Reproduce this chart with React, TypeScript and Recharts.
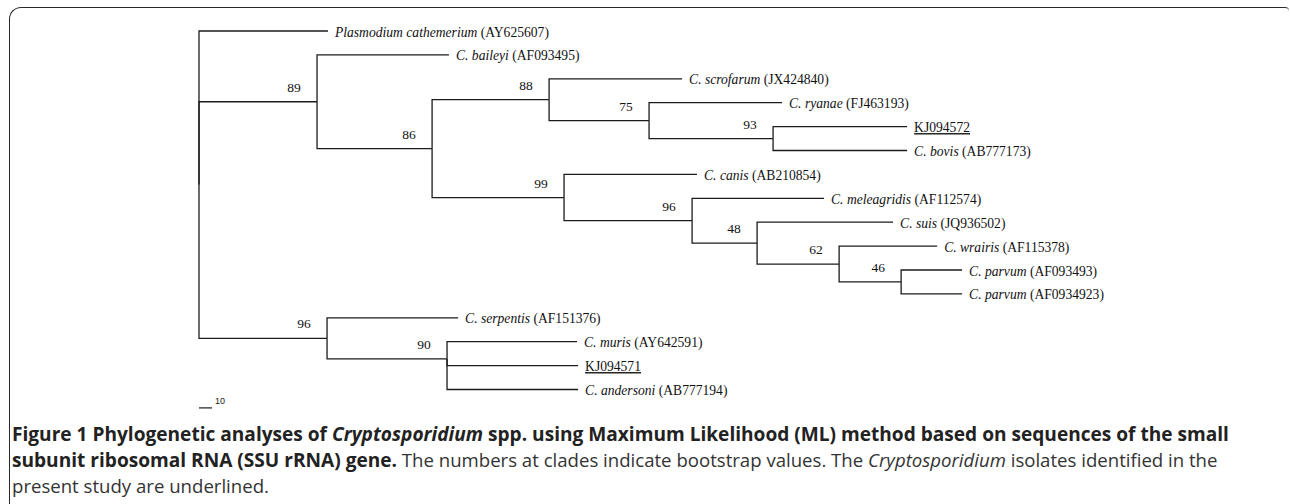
import React from 'react';
import { ScatterChart, Scatter, XAxis, YAxis } from 'recharts';

// ---------- Tree data ----------
const nodeIds = [
  'root', 'plas', 'n89', 'bai', 'n86', 'n88', 'scro', 'n75', 'rya', 'n93', 'kj572', 'bov',
  'n99', 'can', 'n96a', 'mel', 'n48', 'sui', 'n62', 'wra', 'n46', 'par1', 'par2',
  'n96b', 'ser', 'n90', 'mur', 'kj571', 'and',
];
const parentIds = [
  '', 'root', 'root', 'n89', 'n89', 'n86', 'n88', 'n88', 'n75', 'n75', 'n93', 'n93',
  'n86', 'n99', 'n99', 'n96a', 'n96a', 'n48', 'n48', 'n62', 'n62', 'n46', 'n46',
  'root', 'n96b', 'n96b', 'n90', 'n90', 'n90',
];
const branchLengths = [
  0, 99.2, 90.8, 101.5, 88.5, 90.0, 102.3, 76.9, 102.3, 95.4, 103.1, 103.1,
  101.5, 102.3, 98.5, 101.5, 50.0, 104.6, 63.1, 75.4, 47.7, 46.9, 46.9,
  98.5, 100.8, 92.3, 100.0, 100.8, 100.8,
];
const bootstrapValues: (number | null)[] = [
  null, null, 89, null, 86, 88, null, 75, null, 93, null, null,
  99, null, 96, null, 48, null, 62, null, 46, null, null,
  96, null, 90, null, null, null,
];
// internal node drawn off the midpoint of its children (leaf-row units)
const nodeRowOverrides: Record<string, number> = { n90: 13.72 };

const leafIds = ['plas', 'bai', 'scro', 'rya', 'kj572', 'bov', 'can', 'mel', 'sui', 'wra', 'par1', 'par2', 'ser', 'mur', 'kj571', 'and'];
const leafSpecies = [
  'Plasmodium cathemerium', 'C. baileyi', 'C. scrofarum', 'C. ryanae', '', 'C. bovis', 'C. canis',
  'C. meleagridis', 'C. suis', 'C. wrairis', 'C. parvum', 'C. parvum', 'C. serpentis', 'C. muris', '', 'C. andersoni',
];
const leafAccessions = [
  'AY625607', 'AF093495', 'JX424840', 'FJ463193', 'KJ094572', 'AB777173', 'AB210854',
  'AF112574', 'JQ936502', 'AF115378', 'AF093493', 'AF0934923', 'AF151376', 'AY642591', 'KJ094571', 'AB777194',
];
const studyIsolates = ['KJ094572', 'KJ094571'];

const scaleBarLength = 10;
const scaleBarLabel = '10';
const scaleBarRow = 15.77;

// ---------- Layout helpers ----------
const W = 1290;
const H = 504;
const PX_PER_UNIT = 1.3;
const ROOT_PX = 199;
const ROW0_PX = 31;
const ROW_PX = 23.9;
const X_DOMAIN: [number, number] = [-ROOT_PX / PX_PER_UNIT, (W - ROOT_PX) / PX_PER_UNIT];
const Y_DOMAIN: [number, number] = [-ROW0_PX / ROW_PX, (H - ROW0_PX) / ROW_PX];

type NodePos = { id: string; x: number; y: number; parent: string; boot: number | null };

function layoutTree(): Record<string, NodePos> {
  const pos: Record<string, NodePos> = {};
  const children: Record<string, string[]> = {};
  nodeIds.forEach((id, i) => {
    const p = parentIds[i];
    if (p) (children[p] = children[p] || []).push(id);
  });
  const idx = (id: string) => nodeIds.indexOf(id);
  const place = (id: string, x: number) => {
    const i = idx(id);
    const nx = x + branchLengths[i];
    const kids = children[id] || [];
    kids.forEach((k) => place(k, nx));
    let y: number;
    if (kids.length === 0) y = leafIds.indexOf(id);
    else if (nodeRowOverrides[id] !== undefined) y = nodeRowOverrides[id];
    else y = (pos[kids[0]].y + pos[kids[kids.length - 1]].y) / 2;
    pos[id] = { id, x: nx, y, parent: parentIds[i], boot: bootstrapValues[i] };
  };
  place('root', 0);
  return pos;
}

const positions = layoutTree();
const edges = nodeIds
  .filter((id) => positions[id].parent)
  .map((id) => {
    const n = positions[id];
    const p = positions[n.parent];
    return { id, data: [{ x: p.x, y: p.y }, { x: p.x, y: n.y }, { x: n.x, y: n.y }] };
  });
const leafPoints = leafIds.map((id, i) => ({
  x: positions[id].x,
  y: positions[id].y,
  species: leafSpecies[i],
  acc: leafAccessions[i],
}));
const bootPoints = nodeIds
  .filter((id) => positions[id].boot !== null)
  .map((id) => ({ x: positions[id].x, y: positions[id].y, boot: positions[id].boot }));
const scaleBarData = [{ x: 0, y: scaleBarRow }, { x: scaleBarLength, y: scaleBarRow }];

const SERIF = '"Liberation Serif", "Times New Roman", serif';
const LINE = '#1c1c1c';

const Empty = () => <g />;

const LeafLabel = (props: any) => {
  const { cx, cy, payload } = props;
  const study = studyIsolates.includes(payload.acc);
  return (
    <text x={cx + 7} y={cy + 5.5} fontFamily={SERIF} fontSize={13.6} fill="#111">
      {study ? (
        <tspan textDecoration="underline">{payload.acc}</tspan>
      ) : (
        <>
          <tspan fontStyle="italic">{payload.species}</tspan>
          <tspan>{` (${payload.acc})`}</tspan>
        </>
      )}
    </text>
  );
};

const BootLabel = (props: any) => {
  const { cx, cy, payload } = props;
  return (
    <text x={cx - 23} y={cy - 10} textAnchor="middle" fontFamily={SERIF} fontSize={13.5} fill="#111">
      {payload.boot}
    </text>
  );
};

const ScaleLabel = (props: any) => {
  const { cx, cy, index } = props;
  if (index !== 1) return <g />;
  return (
    <text x={cx + 3} y={cy - 4} fontFamily='"Liberation Sans", Arial, sans-serif' fontSize={9} fill="#222">
      {scaleBarLabel}
    </text>
  );
};

export default function App() {
  return (
    <div style={{ position: 'absolute', left: 0, top: 0, width: W, height: H, background: '#fff', overflow: 'hidden' }}>
      <div
        style={{
          position: 'absolute',
          left: 9,
          top: 7,
          width: 1280,
          height: 520,
          borderTop: '1.8px solid #2a2a2a',
          borderLeft: '1.8px solid #2a2a2a',
          borderTopLeftRadius: 12,
          borderTopRightRadius: 4,
          boxSizing: 'border-box',
        }}
      />
      <div style={{ position: 'absolute', left: 0, top: 0 }}>
        <ScatterChart width={W} height={H} margin={{ top: 0, right: 0, bottom: 0, left: 0 }}>
          <XAxis type="number" dataKey="x" domain={X_DOMAIN} hide allowDataOverflow />
          <YAxis type="number" dataKey="y" domain={Y_DOMAIN} reversed hide allowDataOverflow />
          {edges.map((e) => (
            <Scatter
              key={e.id}
              data={e.data}
              line={{ stroke: LINE, strokeWidth: 1.3 }}
              lineType="joint"
              shape={Empty}
              isAnimationActive={false}
              legendType="none"
            />
          ))}
          <Scatter data={leafPoints} shape={LeafLabel} isAnimationActive={false} legendType="none" />
          <Scatter data={bootPoints} shape={BootLabel} isAnimationActive={false} legendType="none" />
          <Scatter
            data={scaleBarData}
            line={{ stroke: LINE, strokeWidth: 1.2 }}
            lineType="joint"
            shape={ScaleLabel}
            isAnimationActive={false}
            legendType="none"
          />
        </ScatterChart>
      </div>
      <div
        style={{
          position: 'absolute',
          left: 12,
          top: 421,
          fontFamily: '"Open Sans", sans-serif',
          fontSize: 18.6,
          lineHeight: '25px',
          color: '#333',
          whiteSpace: 'nowrap',
        }}
      >
        <b style={{ color: '#222', fontSize: 19.1 }}>
          Figure 1 Phylogenetic analyses of <i>Cryptosporidium</i> spp. using Maximum Likelihood (ML) method based on sequences of the small
        </b>
        <br />
        <b style={{ color: '#222', fontSize: 19.1 }}>subunit ribosomal RNA (SSU rRNA) gene.</b> The numbers at clades indicate bootstrap values. The{' '}
        <i>Cryptosporidium</i> isolates identified in the
        <br />
        present study are underlined.
      </div>
    </div>
  );
}
